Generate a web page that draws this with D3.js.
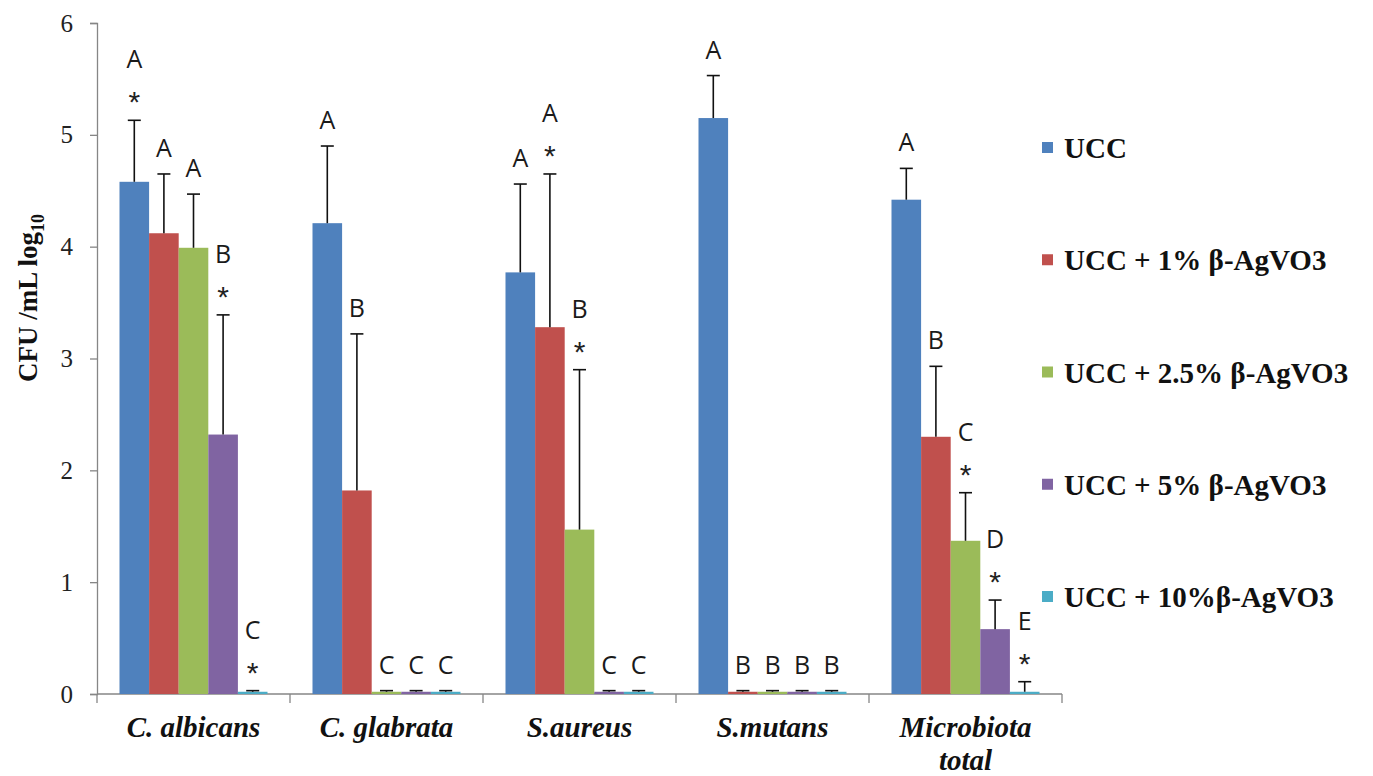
<!DOCTYPE html>
<html>
<head>
<meta charset="utf-8">
<script src="https://cdn.jsdelivr.net/npm/d3@7"></script>
<style>
  html, body { margin: 0; padding: 0; background: #fff; }
  svg { display: block; }
</style>
</head>
<body>
<svg id="chart" width="1373" height="776"></svg>
<script>
// Microorganisms tested
const categories = ["C. albicans", "C. glabrata", "S.aureus", "S.mutans", "Microbiota total"];

// Treatment groups
const seriesNames = ["UCC", "UCC + 1% β-AgVO3", "UCC + 2.5% β-AgVO3", "UCC + 5% β-AgVO3", "UCC + 10%β-AgVO3"];

// Mean CFU/mL (log10) per series, one value per category
const ucc      = [4.58, 4.21, 3.77, 5.15, 4.42];
const agvo1    = [4.12, 1.82, 3.28, 0.02, 2.30];
const agvo2_5  = [3.99, 0.02, 1.47, 0.02, 1.37];
const agvo5    = [2.32, 0.02, 0.02, 0.02, 0.58];
const agvo10   = [0.02, 0.02, 0.02, 0.02, 0.02];

// Standard deviations (upper error bars)
const uccSd     = [0.55, 0.69, 0.79, 0.38, 0.28];
const agvo1Sd   = [0.53, 1.40, 1.37, 0.01, 0.63];
const agvo2_5Sd = [0.48, 0.01, 1.43, 0.01, 0.43];
const agvo5Sd   = [1.07, 0.01, 0.01, 0.01, 0.26];
const agvo10Sd  = [0.01, 0.01, 0.01, 0.01, 0.09];

// Statistical group letters and significance marks
const uccLetters     = ["A", "A", "A", "A", "A"];
const agvo1Letters   = ["A", "B", "A", "B", "B"];
const agvo2_5Letters = ["A", "C", "B", "B", "C"];
const agvo5Letters   = ["B", "C", "C", "B", "D"];
const agvo10Letters  = ["C", "C", "C", "B", "E"];

const uccStars     = [true,  false, false, false, false];
const agvo1Stars   = [false, false, true,  false, false];
const agvo2_5Stars = [false, false, true,  false, true];
const agvo5Stars   = [true,  false, false, false, true];
const agvo10Stars  = [true,  false, false, false, true];

const yTicks = [0, 1, 2, 3, 4, 5, 6];

const colors = ["#4F81BD", "#C0504D", "#9BBB59", "#8064A2", "#4BACC6"];

const seriesValues  = [ucc, agvo1, agvo2_5, agvo5, agvo10];
const seriesSd      = [uccSd, agvo1Sd, agvo2_5Sd, agvo5Sd, agvo10Sd];
const seriesLetters = [uccLetters, agvo1Letters, agvo2_5Letters, agvo5Letters, agvo10Letters];
const seriesStars   = [uccStars, agvo1Stars, agvo2_5Stars, agvo5Stars, agvo10Stars];

const records = [];
categories.forEach((cat, ci) => {
  seriesNames.forEach((s, si) => {
    records.push({
      category: cat, series: s, si,
      value: seriesValues[si][ci],
      sd: seriesSd[si][ci],
      letter: seriesLetters[si][ci],
      star: seriesStars[si][ci]
    });
  });
});

const svg = d3.select("#chart");
const plot = { left: 97, right: 1062, top: 23, bottom: 694 };
const serif = "'Liberation Serif', 'Times New Roman', Times, serif";

const x0 = d3.scaleBand().domain(categories).range([plot.left, plot.right]).paddingInner(0).paddingOuter(0);
const x1 = d3.scaleBand().domain(seriesNames).range([0, x0.bandwidth()]).paddingInner(0).paddingOuter(0.76);
const y = d3.scaleLinear().domain([0, 6]).range([plot.bottom, plot.top]);

const axisColor = "#868686";

// Y axis
const yAxis = svg.append("g")
  .attr("transform", `translate(${plot.left},0)`)
  .call(d3.axisLeft(y).tickValues(yTicks).tickSize(7).tickPadding(17).tickFormat(d3.format("d")));
yAxis.attr("font-family", null).attr("font-size", null);
yAxis.select(".domain").attr("stroke", axisColor).attr("stroke-width", 1.3);
yAxis.selectAll(".tick line").attr("stroke", axisColor).attr("stroke-width", 1.3);
yAxis.selectAll(".tick text")
  .attr("fill", "#222")
  .style("font-family", serif)
  .style("font-size", "25px");

// X axis baseline with category separators
const xAxis = svg.append("g")
  .attr("transform", `translate(0,${plot.bottom})`);
xAxis.append("line")
  .attr("x1", plot.left).attr("x2", plot.right)
  .attr("y1", 0).attr("y2", 0)
  .attr("stroke", axisColor).attr("stroke-width", 1.3);
const boundaries = categories.map(c => x0(c)).concat([x0(categories[categories.length - 1]) + x0.bandwidth()]);
xAxis.selectAll("line.sep")
  .data(boundaries)
  .join("line")
  .attr("class", "sep")
  .attr("x1", d => d).attr("x2", d => d)
  .attr("y1", 0).attr("y2", 9)
  .attr("stroke", axisColor).attr("stroke-width", 1.3);

// Category labels (bold italic, two lines where needed)
const catLabels = svg.append("g");
categories.forEach(cat => {
  const cx = x0(cat) + x0.bandwidth() / 2;
  const words = cat === "Microbiota total" ? ["Microbiota", "total"] : [cat];
  const t = catLabels.append("text")
    .attr("x", cx).attr("y", 737)
    .attr("text-anchor", "middle")
    .style("font-family", serif)
    .style("font-weight", "bold")
    .style("font-style", "italic")
    .style("font-size", "29px")
    .attr("fill", "#111");
  words.forEach((w, i) => {
    t.append("tspan").attr("x", cx).attr("dy", i === 0 ? 0 : 33).text(w);
  });
});

// Bars
const groups = svg.append("g").selectAll("g")
  .data(categories)
  .join("g")
  .attr("transform", d => `translate(${x0(d)},0)`);

groups.selectAll("rect")
  .data(c => records.filter(r => r.category === c))
  .join("rect")
  .attr("x", d => x1(d.series))
  .attr("width", x1.bandwidth())
  .attr("y", d => y(d.value))
  .attr("height", d => y(0) - y(d.value))
  .attr("fill", d => colors[d.si]);

// Upper error bars
const capHalf = 6.5;
const err = groups.selectAll("g.err")
  .data(c => records.filter(r => r.category === c))
  .join("g")
  .attr("class", "err");
err.append("line")
  .attr("x1", d => x1(d.series) + x1.bandwidth() / 2)
  .attr("x2", d => x1(d.series) + x1.bandwidth() / 2)
  .attr("y1", d => y(d.value))
  .attr("y2", d => y(d.value + d.sd))
  .attr("stroke", "#111").attr("stroke-width", 1.6);
err.append("line")
  .attr("x1", d => x1(d.series) + x1.bandwidth() / 2 - capHalf)
  .attr("x2", d => x1(d.series) + x1.bandwidth() / 2 + capHalf)
  .attr("y1", d => y(d.value + d.sd))
  .attr("y2", d => y(d.value + d.sd))
  .attr("stroke", "#111").attr("stroke-width", 1.6);

// Letters and asterisks above error bars
const annFont = "'Open Sans', Lato, 'Liberation Sans', sans-serif";
const ann = groups.selectAll("g.ann")
  .data(c => records.filter(r => r.category === c))
  .join("g")
  .attr("class", "ann");
ann.append("text")
  .attr("x", d => x1(d.series) + x1.bandwidth() / 2)
  .attr("y", d => y(d.value + d.sd) - (d.star ? 52 : 17))
  .attr("text-anchor", "middle")
  .style("font-family", annFont)
  .style("font-size", "25px")
  .attr("fill", "#1a1a1a")
  .text(d => d.letter);
ann.filter(d => d.star).append("text")
  .attr("x", d => x1(d.series) + x1.bandwidth() / 2)
  .attr("y", d => y(d.value + d.sd) - 8)
  .attr("text-anchor", "middle")
  .style("font-family", "'Liberation Sans', Arial, sans-serif")
  .style("font-size", "30px")
  .attr("fill", "#222")
  .text("*");

// Y axis title
const yTitle = svg.append("text")
  .attr("transform", "translate(37,298) rotate(-90)")
  .attr("text-anchor", "middle")
  .style("font-family", serif)
  .style("font-weight", "bold")
  .style("font-size", "27px")
  .attr("fill", "#111");
yTitle.append("tspan").text("CFU /mL log");
yTitle.append("tspan").attr("dy", 7).style("font-size", "18px").text("10");

// Legend
const legend = svg.append("g");
const legendY = d3.scalePoint().domain(seriesNames).range([148, 597]);
const li = legend.selectAll("g")
  .data(seriesNames)
  .join("g")
  .attr("transform", d => `translate(1042,${legendY(d)})`);
li.append("rect")
  .attr("x", 0).attr("y", -6)
  .attr("width", 11).attr("height", 11)
  .attr("fill", (d, i) => colors[i]);
li.append("text")
  .attr("x", 22).attr("y", 10)
  .style("font-family", serif)
  .style("font-weight", "bold")
  .style("font-size", "29px")
  .attr("fill", "#111")
  .text(d => d);
</script>
</body>
</html>
